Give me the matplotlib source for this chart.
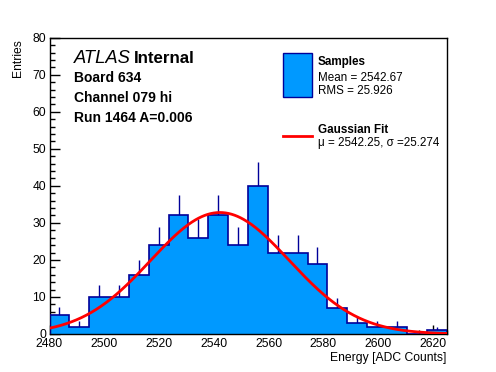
import numpy as np
import matplotlib
matplotlib.use("Agg")
import matplotlib.pyplot as plt
from matplotlib.patches import Rectangle
from matplotlib.lines import Line2D
from matplotlib.ticker import MultipleLocator

# ---- data ----
x_min, x_max, n_bins = 2480.0, 2625.0, 20
counts = [5, 2, 10, 10, 16, 24, 32, 26, 32, 24, 40, 22, 22, 19, 7, 3, 2, 2, 0, 1]
fit_mu = 2542.25
fit_sigma = 25.274
fit_amp = 32.8
mean_val = 2542.67
rms_val = 25.926
header_lines = ["Board 634", "Channel 079 hi", "Run 1464 A=0.006"]

plt.rcParams['font.family'] = ['Liberation Sans', 'DejaVu Sans']

W, H = 496, 372
fig = plt.figure(figsize=(W / 100, H / 100), dpi=100)

def fx(px):
    return px / W

def fy(py):
    return 1 - py / H

L, R, T, B = 49.5, 446.5, 37.7, 334
ax = fig.add_axes([fx(L), fy(B), fx(R) - fx(L), fy(T) - fy(B)])

edges = np.linspace(x_min, x_max, n_bins + 1)
centers = 0.5 * (edges[:-1] + edges[1:])
cnt = np.array(counts, dtype=float)
err = np.sqrt(cnt)

fill_c = '#0099ff'
edge_c = '#000099'

mask = cnt > 0
ax.vlines(centers[mask], (cnt - err)[mask], (cnt + err)[mask], color=edge_c, lw=1.0, zorder=1)
ax.stairs(cnt, edges, fill=True, color=fill_c, zorder=2)
ax.stairs(cnt, edges, fill=False, color=edge_c, lw=1.2, zorder=3, baseline=0)

xs = np.linspace(x_min, x_max, 400)
ax.plot(xs, fit_amp * np.exp(-0.5 * ((xs - fit_mu) / fit_sigma) ** 2), color='#ff0000', lw=2.0, zorder=4)

ax.set_xlim(x_min, x_max)
ax.set_ylim(0, 80)
ax.xaxis.set_major_locator(MultipleLocator(20))
ax.xaxis.set_minor_locator(MultipleLocator(5))
ax.yaxis.set_major_locator(MultipleLocator(10))
ax.yaxis.set_minor_locator(MultipleLocator(2))
ax.tick_params(which='both', direction='in', top=False, right=False, width=1.0, labelsize=8.7, color='black')
ax.tick_params(axis='x', which='major', length=6.2, pad=3.2)
ax.tick_params(axis='x', which='minor', length=3.1)
ax.tick_params(axis='y', which='major', length=7.5, pad=2.4)
ax.tick_params(axis='y', which='minor', length=3.8)
for s in ax.spines.values():
    s.set_linewidth(1.0)

fig.text(fx(446), fy(360.5), "Energy [ADC Counts]", ha='right', va='baseline', fontsize=8.7)
fig.text(fx(17.5), fy(39), "Entries", ha='center', va='top', rotation=90, fontsize=8.7)

# ATLAS label
fig.text(fx(73.5), fy(63.3), "ATLAS", ha='left', va='baseline', fontsize=13.2, style='italic')
fig.text(fx(134), fy(63.3), "Internal", ha='left', va='baseline', fontsize=12.2, weight='bold')
for line, yb in zip(header_lines, [81.7, 101.7, 121.7]):
    fig.text(fx(74.5), fy(yb), line, ha='left', va='baseline', fontsize=10, weight='bold')

# Legend
fig.patches.append(Rectangle((fx(283.3), fy(96.7)), fx(311.7) - fx(283.3), fy(53.3) - fy(96.7),
                             transform=fig.transFigure, facecolor=fill_c, edgecolor=edge_c, lw=1.0))
fig.lines.append(Line2D([fx(283.3), fx(311.7)], [fy(136), fy(136)], transform=fig.transFigure,
                        color='#ff0000', lw=2.0))
lfs = 8.4
fig.text(fx(317.5), fy(65), "Samples", ha='left', va='baseline', fontsize=lfs, weight='bold')
fig.text(fx(317.5), fy(80.7), f"Mean = {mean_val:.2f}", ha='left', va='baseline', fontsize=lfs)
fig.text(fx(317.5), fy(94), f"RMS = {rms_val:.3f}", ha='left', va='baseline', fontsize=lfs)
fig.text(fx(317.5), fy(132.7), "Gaussian Fit", ha='left', va='baseline', fontsize=lfs, weight='bold')
fig.text(fx(317.5), fy(146), f"\u03bc = {fit_mu:.2f}, \u03c3 ={fit_sigma:.3f}", ha='left', va='baseline', fontsize=lfs)

fig.savefig("out.png", dpi=100)
